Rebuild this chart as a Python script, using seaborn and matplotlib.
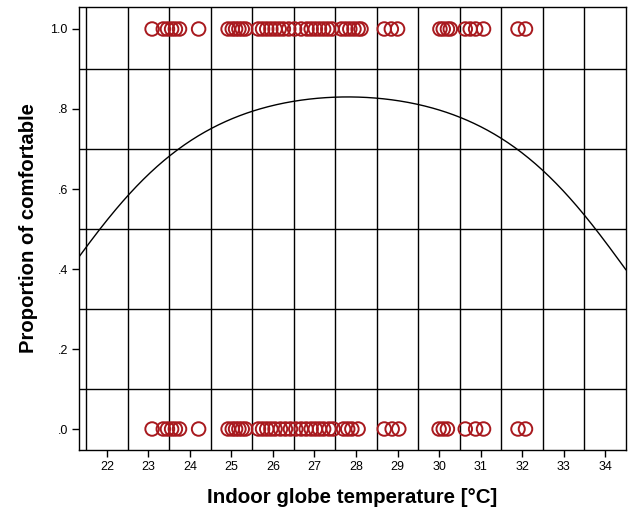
import numpy as np
import pandas as pd
import matplotlib
matplotlib.use("Agg")
import matplotlib.pyplot as plt
import seaborn as sns
from matplotlib.ticker import FixedLocator, FuncFormatter

# Observed indoor globe temperatures, comfortable (1) and not comfortable (0)
temp_comfortable = [23.09, 23.36, 23.46, 23.56, 23.65, 23.75, 24.21,
                    24.92, 25.02, 25.10, 25.18, 25.26, 25.34,
                    25.65, 25.75, 25.85, 25.95, 26.05, 26.15, 26.25, 26.38, 26.52,
                    26.68, 26.82, 26.92, 27.02, 27.12, 27.22, 27.32, 27.42,
                    27.65, 27.75, 27.85, 27.95, 28.05, 28.12,
                    28.68, 28.85, 29.00,
                    30.02, 30.10, 30.20, 30.27,
                    30.63, 30.75, 30.88, 31.07,
                    31.90, 32.08]
temp_uncomfortable = [23.09, 23.36, 23.46, 23.56, 23.65, 23.75, 24.21,
                      24.92, 25.02, 25.10, 25.18, 25.26, 25.34,
                      25.65, 25.75, 25.85, 25.95, 26.05, 26.18, 26.30, 26.42, 26.55,
                      26.68, 26.80, 26.92, 27.02, 27.12, 27.22, 27.35, 27.45,
                      27.70, 27.80, 27.90, 28.05,
                      28.68, 28.87, 29.03,
                      30.00, 30.10, 30.20,
                      30.63, 30.88, 31.07,
                      31.90, 32.08]

# Fitted quadratic logistic model: logit(p) = b0 + b1*T + b2*T^2
b0, b1, b2 = -32.883, 2.4798, -0.0446

x_ticks = list(range(22, 35))
y_ticks = [0.0, 0.2, 0.4, 0.6, 0.8, 1.0]

df = pd.DataFrame({
    "temp": temp_comfortable + temp_uncomfortable,
    "comfortable": [1.0] * len(temp_comfortable) + [0.0] * len(temp_uncomfortable),
})

sns.set_theme(style="white")
plt.rcParams["font.family"] = ["Liberation Sans", "DejaVu Sans"]

fig = plt.figure(figsize=(6.28, 5.17), dpi=100)
ax = fig.add_axes([79 / 628, 1 - 450 / 517, (626 - 79) / 628, (450 - 7) / 517])

xmin, xmax = 21.33, 34.5
ax.set_xlim(xmin, xmax)
ax.set_ylim(-0.0525, 1.055)

# grid lines at half-units (x) and odd tenths (y)
for gx in np.arange(21.5, 34.0, 1.0):
    ax.axvline(gx, color="black", lw=1.0, zorder=1)
for gy in [0.1, 0.3, 0.5, 0.7, 0.9]:
    ax.axhline(gy, color="black", lw=1.0, zorder=1)

tt = np.linspace(xmin, xmax, 400)
curve = pd.DataFrame({"temp": tt, "p": 1 / (1 + np.exp(-(b0 + b1 * tt + b2 * tt ** 2)))})
sns.lineplot(data=curve, x="temp", y="p", ax=ax, color="black", lw=1.0, zorder=2)

sns.scatterplot(data=df, x="temp", y="comfortable", ax=ax, marker="o",
                s=95, facecolors="none", edgecolor="#a8191e", linewidth=1.4,
                zorder=3, legend=False)

ax.xaxis.set_major_locator(FixedLocator(x_ticks))
ax.yaxis.set_major_locator(FixedLocator(y_ticks))
ax.yaxis.set_major_formatter(FuncFormatter(lambda v, p: "1.0" if v >= 0.99 else ("%.1f" % v).lstrip("0")))
ax.tick_params(axis="both", direction="out", length=5, width=1, color="black",
               labelsize=9, labelcolor="black", bottom=True, left=True, pad=3)
for s in ax.spines.values():
    s.set_color("black")
    s.set_linewidth(1.0)

ax.set_xlabel("Indoor globe temperature [°C]", fontsize=14.8, fontweight="bold",
              labelpad=11, color="black")
ax.set_ylabel("Proportion of comfortable", fontsize=14.6, fontweight="bold",
              labelpad=9, color="black")

fig.savefig("out.png", dpi=100)
